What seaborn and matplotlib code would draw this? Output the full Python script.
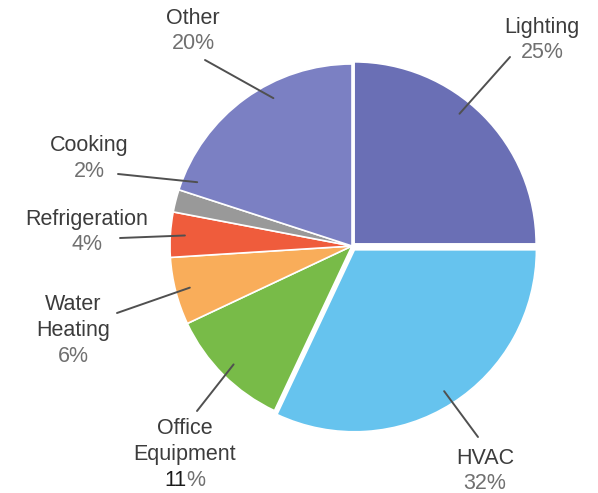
import numpy as np
import matplotlib
matplotlib.use("Agg")
import matplotlib.pyplot as plt
import seaborn as sns

# ---- data ----
categories = ["Lighting", "HVAC", "Office Equipment", "Water Heating",
              "Refrigeration", "Cooking", "Other"]
shares = [25, 32, 11, 6, 4, 2, 20]
label_lines = [["Lighting"], ["HVAC"], ["Office", "Equipment"], ["Water", "Heating"],
               ["Refrigeration"], ["Cooking"], ["Other"]]
colors = ["#6a6fb5", "#66c3ee", "#78bb48", "#f9ad5a", "#ef5c3c", "#999999", "#7b80c3"]

# ---- layout (pixel positions, top-down) ----
W, H = 598, 493
label_pos = {  # x centre, y of first line (pixel), leader start (pixel)
    "Lighting": (542, 27, (510, 57)),
    "HVAC": (485, 458, (478, 437)),
    "Office Equipment": (185, 429, (197, 411)),
    "Water Heating": (73, 305, (117, 313)),
    "Refrigeration": (87, 219, (120, 238)),
    "Cooking": (89, 146, (118, 174)),
    "Other": (193, 18, (205, 60)),
}
angle_nudge = {"Lighting": 6, "Cooking": -8, "Other": -8}
line_h = 25.7
explode_px = {"Lighting": 3.0, "HVAC": 4.5}

sns.set_theme(style="white")
plt.rcParams["font.family"] = ["Liberation Sans", "DejaVu Sans"]

fig = plt.figure(figsize=(W / 100, H / 100), dpi=100)
ax = fig.add_axes([0, 0, 1, 1])

def Y(py):
    return H - py

cx, cy, R = 352, Y(246), 182
explode = [explode_px.get(c, 0) for c in categories]
wedges, _ = ax.pie(shares, colors=sns.color_palette(colors), startangle=90,
                   counterclock=False, center=(cx, cy), radius=R, explode=explode,
                   wedgeprops=dict(edgecolor="white", linewidth=1.2), frame=True)
ax.set_xlim(0, W)
ax.set_ylim(0, H)
ax.set_aspect("equal")
ax.axis("off")

fs = 15.5
name_c, pct_c, dark_c = "#3c3c3c", "#707070", "#1a1a1a"
fig.canvas.draw()
renderer = fig.canvas.get_renderer()
inv = ax.transData.inverted()
for cat, val, lines, w in zip(categories, shares, label_lines, wedges):
    x, y0, (lx, ly) = label_pos[cat]
    for i, t in enumerate(lines):
        ax.text(x, Y(y0 + i * line_h), t, ha="center", va="center",
                fontsize=fs, color=name_c)
    py = Y(y0 + len(lines) * line_h)
    if cat == "Office Equipment":
        # reference shows the digits dark and the % sign grey
        probe = ax.text(x, py, f"{val}%", ha="center", va="center", fontsize=fs, alpha=0)
        bb = probe.get_window_extent(renderer)
        x0 = inv.transform((bb.x0, 0))[0]
        x1 = inv.transform((bb.x1, 0))[0]
        ax.text(x0, py, f"{val}", ha="left", va="center", fontsize=fs, color=dark_c)
        ax.text(x1, py, "%", ha="right", va="center", fontsize=fs, color=pct_c)
    else:
        ax.text(x, py, f"{val}%", ha="center", va="center", fontsize=fs, color=pct_c)
    mid = np.deg2rad((w.theta1 + w.theta2) / 2 + angle_nudge.get(cat, 0))
    wx, wy = w.center
    ex = wx + 0.92 * R * np.cos(mid)
    ey = wy + 0.92 * R * np.sin(mid)
    ax.plot([lx, ex], [Y(ly), ey], color="#505050", lw=1.4)

fig.savefig("out.png", dpi=100, facecolor="white")
